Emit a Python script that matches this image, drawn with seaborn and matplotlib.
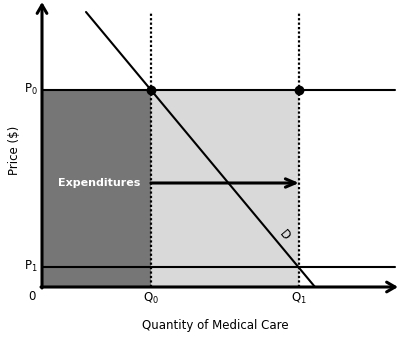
import matplotlib
matplotlib.use("Agg")
import matplotlib.pyplot as plt
import seaborn as sns
import pandas as pd

sns.set_style("white")
plt.rcParams['font.family'] = ['DejaVu Sans']
plt.rcParams['mathtext.default'] = 'regular'
plt.rcParams['text.color'] = 'black'

# Data (chart units, origin at axes corner)
Q0, Q1 = 109, 257
P0, P1 = 197, 20
demand_q = [44, 273]
demand_p = [275, 0]
x_max, y_max = 356, 285
dot_q = [Q0, Q1]
dot_p = [P0, P0]
labels = {"xlabel": "Quantity of Medical Care", "ylabel": "Price ($)",
          "area": "Expenditures", "curve": "D"}

fig = plt.figure(figsize=(4.0, 3.4), dpi=100)
ax = fig.add_axes([42/400, 53/340, x_max/400, y_max/340])

# shaded areas
ax.fill_between([0, Q0], 0, P0, color="#767676", lw=0, zorder=1)
ax.fill_between([Q0, Q1], 0, P0, color="#d9d9d9", lw=0, zorder=1)

# price lines
ax.plot([0, 353], [P0, P0], color="black", lw=1.5, zorder=3)
ax.plot([0, 353], [P1, P1], color="black", lw=1.5, zorder=3)

# dotted quantity lines
for q in (Q0, Q1):
    ax.plot([q, q], [0, 275], color="black", lw=1.6, ls=(0, (1, 1)), zorder=3)

# demand curve via seaborn
dd = pd.DataFrame({"q": demand_q, "p": demand_p})
sns.lineplot(data=dd, x="q", y="p", color="black", lw=1.5, ax=ax, zorder=4,
             sort=False)

# dots
sns.scatterplot(x=dot_q, y=dot_p, color="black", s=50, ax=ax, zorder=5,
                edgecolor="black", linewidth=0)

ax.set_xlabel("")
ax.set_ylabel("")
ax.set_xlim(0, x_max)
ax.set_ylim(0, y_max)
ax.axis("off")

# axes arrows
ax.annotate("", xy=(0, y_max), xytext=(0, -1),
            arrowprops=dict(arrowstyle="->,head_length=0.6,head_width=0.35",
                            lw=2.2, color="black", shrinkA=0, shrinkB=0),
            annotation_clip=False)
ax.annotate("", xy=(x_max, 0), xytext=(-1, 0),
            arrowprops=dict(arrowstyle="->,head_length=0.6,head_width=0.35",
                            lw=2.2, color="black", shrinkA=0, shrinkB=0),
            annotation_clip=False)

# expenditure arrow
ax.annotate("", xy=(Q1, 104), xytext=(Q0, 104),
            arrowprops=dict(arrowstyle="->,head_length=0.7,head_width=0.3",
                            lw=2.2, color="black", shrinkA=0, shrinkB=0),
            zorder=6)

# texts
fs = 8.5
ax.text(57, 104, labels["area"], color="white", fontweight="bold",
        fontsize=8, ha="center", va="center", zorder=6)
ax.text(242, 52, labels["curve"], fontsize=8.5, rotation=-50,
        ha="center", va="center")
ax.text(-4, P0 + 1, r"P$_0$", fontsize=fs, ha="right", va="center")
ax.text(-4, P1 + 1, r"P$_1$", fontsize=fs, ha="right", va="center")
ax.text(-10, -10, "0", fontsize=fs, ha="center", va="center")
ax.text(Q0, -11, r"Q$_0$", fontsize=fs, ha="center", va="center")
ax.text(Q1, -11, r"Q$_1$", fontsize=fs, ha="center", va="center")
fig.text(15/400, 1 - 150/340, labels["ylabel"], rotation=90, fontsize=fs,
         ha="center", va="center")
fig.text(215/400, 1 - 325/340, labels["xlabel"], fontsize=fs,
         ha="center", va="center")

fig.savefig("out.png", dpi=100)
